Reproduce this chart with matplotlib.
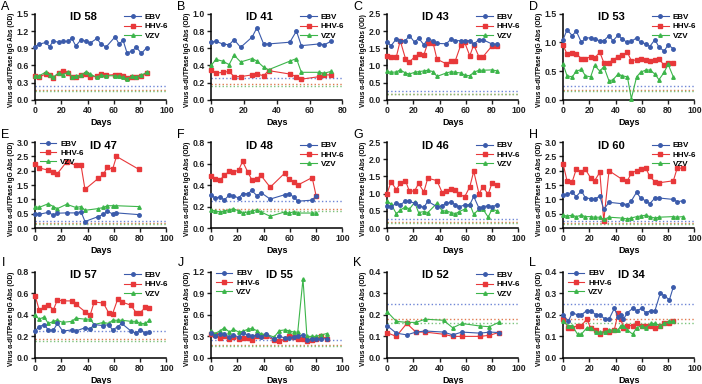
import matplotlib.pyplot as plt

plt.rcParams['font.family'] = ['Liberation Sans', 'DejaVu Sans']
plt.rcParams['font.weight'] = 'bold'

# ---- data (days, OD) ----
days_58 = [0, 3, 8, 11, 14, 18, 21, 25, 28, 31, 35, 39, 42, 47, 50, 54, 61, 64, 67, 70, 74, 77, 81, 85]
ebv_58 = [0.93, 0.97, 1.00, 0.93, 1.03, 1.00, 1.02, 1.02, 1.07, 0.94, 1.05, 1.02, 0.99, 1.07, 0.98, 0.92, 1.10, 0.97, 1.04, 0.82, 0.85, 0.92, 0.81, 0.91]
hhv_58 = [0.41, 0.40, 0.45, 0.44, 0.38, 0.47, 0.50, 0.46, 0.39, 0.40, 0.44, 0.45, 0.40, 0.41, 0.45, 0.43, 0.44, 0.44, 0.42, 0.38, 0.40, 0.40, 0.41, 0.46]
vzv_58 = [0.42, 0.42, 0.48, 0.43, 0.40, 0.47, 0.44, 0.48, 0.40, 0.41, 0.43, 0.49, 0.45, 0.39, 0.43, 0.42, 0.42, 0.41, 0.39, 0.37, 0.41, 0.40, 0.43, 0.48]

days_41 = [0, 3, 7, 11, 14, 18, 25, 28, 32, 35, 48, 52, 55, 66, 69, 73]
ebv_41 = [0.67, 0.68, 0.65, 0.64, 0.70, 0.61, 0.73, 0.84, 0.65, 0.65, 0.67, 0.80, 0.63, 0.65, 0.64, 0.68]
hhv_41 = [0.35, 0.31, 0.32, 0.33, 0.27, 0.27, 0.29, 0.30, 0.28, 0.34, 0.30, 0.27, 0.24, 0.27, 0.29, 0.29]
vzv_41 = [0.40, 0.47, 0.45, 0.41, 0.52, 0.44, 0.48, 0.45, 0.38, 0.35, 0.45, 0.48, 0.32, 0.32, 0.31, 0.33]

days_43 = [0, 3, 7, 10, 14, 17, 21, 24, 28, 31, 35, 38, 45, 49, 52, 56, 59, 63, 66, 70, 73, 80, 84]
ebv_43 = [1.68, 1.57, 1.77, 1.72, 1.72, 1.87, 1.67, 1.80, 1.60, 1.77, 1.72, 1.64, 1.63, 1.77, 1.72, 1.72, 1.72, 1.72, 1.62, 1.75, 1.75, 1.62, 1.62]
hhv_43 = [1.27, 1.24, 1.24, 1.72, 1.20, 1.10, 1.25, 1.32, 1.30, 1.66, 1.66, 1.18, 1.05, 1.13, 1.14, 1.58, 1.68, 1.28, 1.60, 1.25, 1.25, 1.57, 1.57]
vzv_43 = [0.83, 0.80, 0.81, 0.87, 0.78, 0.75, 0.80, 0.82, 0.84, 0.86, 0.82, 0.68, 0.78, 0.82, 0.80, 0.78, 0.72, 0.70, 0.80, 0.86, 0.86, 0.87, 0.84]

days_53 = [0, 3, 7, 10, 14, 17, 21, 24, 28, 31, 35, 38, 42, 45, 49, 52, 56, 59, 63, 66, 70, 73, 77, 80, 84]
ebv_53 = [1.05, 1.22, 1.12, 1.20, 1.00, 1.08, 1.08, 1.06, 1.03, 1.03, 1.12, 1.03, 1.13, 1.06, 1.00, 1.02, 1.08, 1.00, 0.98, 0.93, 1.05, 0.92, 0.85, 0.96, 0.89]
hhv_53 = [0.95, 0.80, 0.82, 0.80, 0.72, 0.72, 0.75, 0.73, 0.83, 0.65, 0.65, 0.70, 0.75, 0.78, 0.83, 0.68, 0.70, 0.72, 0.70, 0.68, 0.70, 0.72, 0.60, 0.65, 0.65]
vzv_53 = [0.62, 0.42, 0.40, 0.50, 0.53, 0.42, 0.40, 0.60, 0.50, 0.58, 0.33, 0.35, 0.45, 0.42, 0.40, 0.02, 0.40, 0.48, 0.52, 0.52, 0.45, 0.35, 0.48, 0.62, 0.40]

days_47 = [0, 3, 10, 14, 17, 24, 31, 35, 38, 48, 52, 55, 59, 62, 79]
ebv_47 = [0.50, 0.48, 0.55, 0.45, 0.52, 0.53, 0.53, 0.57, 0.23, 0.40, 0.48, 0.58, 0.50, 0.53, 0.47]
hhv_47 = [2.25, 2.10, 2.02, 1.96, 1.90, 2.31, 2.19, 2.19, 1.35, 1.73, 1.87, 2.13, 2.05, 2.50, 2.05]
vzv_47 = [0.75, 0.72, 0.85, 0.75, 0.68, 0.83, 0.72, 0.75, 0.62, 0.68, 0.72, 0.78, 0.78, 0.78, 0.75]

days_48 = [0, 3, 7, 10, 14, 17, 21, 24, 28, 31, 35, 38, 45, 56, 59, 63, 66, 77, 80]
ebv_48 = [0.31, 0.28, 0.29, 0.26, 0.31, 0.30, 0.28, 0.32, 0.32, 0.35, 0.30, 0.33, 0.27, 0.31, 0.32, 0.29, 0.25, 0.26, 0.30]
hhv_48 = [0.48, 0.46, 0.45, 0.49, 0.53, 0.52, 0.54, 0.62, 0.52, 0.45, 0.46, 0.49, 0.38, 0.51, 0.46, 0.43, 0.40, 0.47, 0.30]
vzv_48 = [0.17, 0.16, 0.15, 0.16, 0.17, 0.18, 0.16, 0.14, 0.15, 0.16, 0.17, 0.15, 0.11, 0.15, 0.14, 0.15, 0.14, 0.14, 0.14]

days_46 = [0, 3, 7, 10, 14, 17, 21, 24, 28, 31, 38, 42, 45, 49, 52, 55, 59, 63, 66, 70, 73, 77, 80, 84]
ebv_46 = [0.65, 0.62, 0.72, 0.68, 0.78, 0.78, 0.72, 0.65, 0.60, 0.78, 0.62, 0.65, 0.72, 0.75, 0.68, 0.62, 0.67, 0.68, 0.92, 0.58, 0.62, 0.65, 0.62, 0.68]
hhv_46 = [1.00, 1.35, 1.12, 1.30, 1.38, 1.07, 1.08, 1.30, 1.05, 1.45, 1.38, 1.03, 1.07, 1.15, 1.10, 1.00, 0.90, 1.20, 1.65, 1.00, 1.20, 0.98, 1.32, 1.25]
vzv_46 = [0.78, 0.70, 0.42, 0.52, 0.62, 0.55, 0.75, 0.45, 0.48, 0.45, 0.72, 0.50, 0.50, 0.45, 0.42, 0.48, 0.55, 0.70, 0.40, 0.55, 0.55, 0.32, 0.55, 0.50]

days_60 = [0, 3, 7, 10, 14, 17, 21, 24, 28, 31, 35, 45, 49, 52, 56, 59, 63, 66, 70, 73, 84, 87, 91]
ebv_60 = [1.15, 1.18, 1.25, 1.10, 1.30, 1.05, 1.03, 1.00, 1.12, 0.65, 0.90, 0.85, 0.82, 0.95, 1.25, 1.05, 0.95, 0.85, 1.05, 1.05, 1.00, 0.92, 0.95]
hhv_60 = [2.25, 1.65, 1.62, 2.05, 1.95, 2.05, 1.75, 1.65, 1.95, 0.25, 2.00, 1.70, 1.65, 1.92, 2.00, 2.05, 2.10, 1.80, 1.62, 1.58, 1.65, 2.10, 2.08]
vzv_60 = [0.45, 0.42, 0.45, 0.40, 0.45, 0.40, 0.40, 0.38, 0.38, 0.30, 0.38, 0.35, 0.32, 0.35, 0.40, 0.42, 0.45, 0.40, 0.35, 0.38, 0.40, 0.38, 0.40]

days_57 = [0, 3, 7, 10, 14, 17, 21, 28, 31, 38, 42, 45, 52, 56, 59, 63, 66, 73, 77, 80, 84, 87]
ebv_57 = [0.25, 0.29, 0.31, 0.26, 0.26, 0.32, 0.25, 0.26, 0.25, 0.28, 0.27, 0.31, 0.30, 0.31, 0.26, 0.29, 0.32, 0.25, 0.23, 0.26, 0.23, 0.24]
hhv_57 = [0.58, 0.45, 0.47, 0.49, 0.45, 0.54, 0.53, 0.53, 0.50, 0.43, 0.40, 0.52, 0.51, 0.42, 0.41, 0.55, 0.52, 0.49, 0.42, 0.42, 0.47, 0.46]
vzv_57 = [0.40, 0.36, 0.38, 0.32, 0.34, 0.35, 0.33, 0.34, 0.37, 0.36, 0.36, 0.31, 0.33, 0.32, 0.35, 0.35, 0.35, 0.34, 0.34, 0.32, 0.32, 0.35]

days_55 = [0, 3, 7, 10, 14, 17, 21, 24, 28, 31, 35, 38, 42, 48, 52, 56, 59, 63, 66, 70, 73, 77, 80, 84, 88]
ebv_55 = [0.35, 0.31, 0.33, 0.33, 0.29, 0.32, 0.29, 0.35, 0.32, 0.30, 0.32, 0.29, 0.33, 0.26, 0.30, 0.28, 0.28, 0.29, 0.30, 0.32, 0.25, 0.26, 0.27, 0.26, 0.27]
hhv_55 = [0.33, 0.32, 0.28, 0.31, 0.26, 0.29, 0.27, 0.28, 0.28, 0.25, 0.30, 0.30, 0.30, 0.25, 0.24, 0.26, 0.31, 0.29, 0.27, 0.26, 0.24, 0.25, 0.27, 0.30, 0.27]
vzv_55 = [0.38, 0.34, 0.38, 0.42, 0.36, 0.40, 0.36, 0.37, 0.40, 0.41, 0.38, 0.33, 0.33, 0.29, 0.38, 0.39, 0.38, 0.36, 0.36, 1.10, 0.30, 0.30, 0.30, 0.32, 0.34]

days_52 = [0, 7, 15, 22, 29, 43, 50, 57, 71, 78, 85]
ebv_52 = [0.150, 0.115, 0.107, 0.120, 0.125, 0.120, 0.107, 0.120, 0.115, 0.120, 0.118]
hhv_52 = [0.117, 0.100, 0.160, 0.120, 0.120, 0.110, 0.100, 0.100, 0.100, 0.105, 0.118]
vzv_52 = [0.215, 0.170, 0.165, 0.165, 0.180, 0.175, 0.140, 0.160, 0.148, 0.145, 0.165]

days_34 = [0, 4, 7, 11, 14, 18, 21, 25, 28, 32, 35, 39, 42, 44, 46, 49, 53, 56, 60, 63, 67, 70, 74, 77, 81, 84]
ebv_34 = [0.20, 0.17, 0.21, 0.20, 0.20, 0.22, 0.22, 0.20, 0.20, 0.18, 0.18, 0.23, 0.19, 0.20, 0.18, 0.21, 0.23, 0.22, 0.23, 0.21, 0.22, 0.22, 0.30, 0.29, 0.27, 0.33]
hhv_34 = [0.18, 0.14, 0.14, 0.15, 0.15, 0.18, 0.14, 0.13, 0.11, 0.13, 0.12, 0.13, 0.21, 0.18, 0.14, 0.15, 0.15, 0.16, 0.15, 0.15, 0.15, 0.14, 0.15, 0.16, 0.16, 0.17]
vzv_34 = [0.17, 0.15, 0.15, 0.11, 0.11, 0.14, 0.14, 0.12, 0.12, 0.12, 0.13, 0.13, 0.13, 0.15, 0.15, 0.13, 0.11, 0.14, 0.15, 0.14, 0.16, 0.16, 0.15, 0.16, 0.17, 0.17]

# cutoff lines (OD)
cut_ebv, cut_hhv, cut_vzv = 0.25, 0.18, 0.16

letters = ['A', 'B', 'C', 'D', 'E', 'F', 'G', 'H', 'I', 'J', 'K', 'L']
ids = ['ID 58', 'ID 41', 'ID 43', 'ID 53', 'ID 47', 'ID 48', 'ID 46', 'ID 60', 'ID 57', 'ID 55', 'ID 52', 'ID 34']
all_days = [days_58, days_41, days_43, days_53, days_47, days_48, days_46, days_60, days_57, days_55, days_52, days_34]
all_ebv = [ebv_58, ebv_41, ebv_43, ebv_53, ebv_47, ebv_48, ebv_46, ebv_60, ebv_57, ebv_55, ebv_52, ebv_34]
all_hhv = [hhv_58, hhv_41, hhv_43, hhv_53, hhv_47, hhv_48, hhv_46, hhv_60, hhv_57, hhv_55, hhv_52, hhv_34]
all_vzv = [vzv_58, vzv_41, vzv_43, vzv_53, vzv_47, vzv_48, vzv_46, vzv_60, vzv_57, vzv_55, vzv_52, vzv_34]
ymax = [1.5, 1.0, 2.5, 1.5, 3.0, 0.8, 2.5, 3.0, 0.8, 1.2, 0.4, 0.4]
ystep = [0.3, 0.2, 0.5, 0.5, 0.5, 0.2, 0.5, 0.5, 0.2, 0.3, 0.1, 0.1]
xmax = [100, 80, 100, 100, 100, 100, 100, 100, 100, 100, 100, 100]
left_legend = [False, False, False, False, True, False, False, False, False, True, False, True]

c_ebv = '#3b5bab'
c_hhv = '#e8383a'
c_vzv = '#3cb54a'

fig = plt.figure(figsize=(7.02, 3.84), dpi=100)

for i in range(12):
    r, c = divmod(i, 4)
    ax = fig.add_axes([0.050 + c * 0.2507, [0.740, 0.406, 0.068][r], 0.187, 0.224])
    ax.axhline(cut_ebv, color='#6f86d6', ls=':', lw=1.0)
    ax.axhline(cut_hhv, color='#e07a50', ls=':', lw=1.0)
    ax.axhline(cut_vzv, color='#7cc47c', ls=':', lw=1.0)
    d = all_days[i]
    ax.plot(d, all_ebv[i], '-o', color=c_ebv, ms=2.5, lw=0.8, label='EBV', clip_on=False, zorder=4)
    ax.plot(d, all_hhv[i], '-s', color=c_hhv, ms=2.5, lw=0.8, label='HHV-6', clip_on=False, zorder=3)
    ax.plot(d, all_vzv[i], '-^', color=c_vzv, ms=2.5, lw=0.8, label='VZV', clip_on=False, zorder=3)

    ax.set_xlim(0, xmax[i])
    ax.set_ylim(0, ymax[i])
    ax.set_xticks(range(0, xmax[i] + 1, 20))
    n = int(round(ymax[i] / ystep[i]))
    yt = [round(k * ystep[i], 2) for k in range(n + 1)]
    ax.set_yticks(yt)
    ax.set_yticklabels(['%.1f' % v for v in yt])
    for s in ['top', 'right']:
        ax.spines[s].set_visible(False)
    for s in ['left', 'bottom']:
        ax.spines[s].set_linewidth(1.1)
    ax.tick_params(labelsize=6.3, width=1.0, length=3, pad=1.5, colors='#222222')
    ax.set_xlabel('Days', fontsize=6.5, fontweight='bold', labelpad=2)
    ylab = 'Virus α-dUTPase IgGAbs (OD)' if i == 2 else 'Virus α-dUTPase IgG Abs (OD)'
    ax.set_ylabel(ylab, fontsize=4.7, fontweight='bold')
    ax.yaxis.set_label_coords(-0.15, 0.46)

    if left_legend[i]:
        ax.text(0.52, 0.96, ids[i], transform=ax.transAxes, ha='center', va='center', fontsize=8, fontweight='bold')
        ax.legend(loc='upper left', bbox_to_anchor=(0.0, 1.08), frameon=False, fontsize=5.8,
                  handlelength=2.0, labelspacing=0.2, handletextpad=0.5, borderaxespad=0.2)
    else:
        ax.text(0.37, 0.96, ids[i], transform=ax.transAxes, ha='center', va='center', fontsize=8, fontweight='bold')
        ax.legend(loc='upper right', bbox_to_anchor=(1.05, 1.06), frameon=False, fontsize=5.8,
                  handlelength=2.0, labelspacing=0.2, handletextpad=0.5, borderaxespad=0.2)

    fig.text(0.002 + c * 0.2507, [0.997, 0.664, 0.331][r], letters[i], fontsize=9, fontweight='normal', va='top')

fig.savefig('out.png', dpi=100)
